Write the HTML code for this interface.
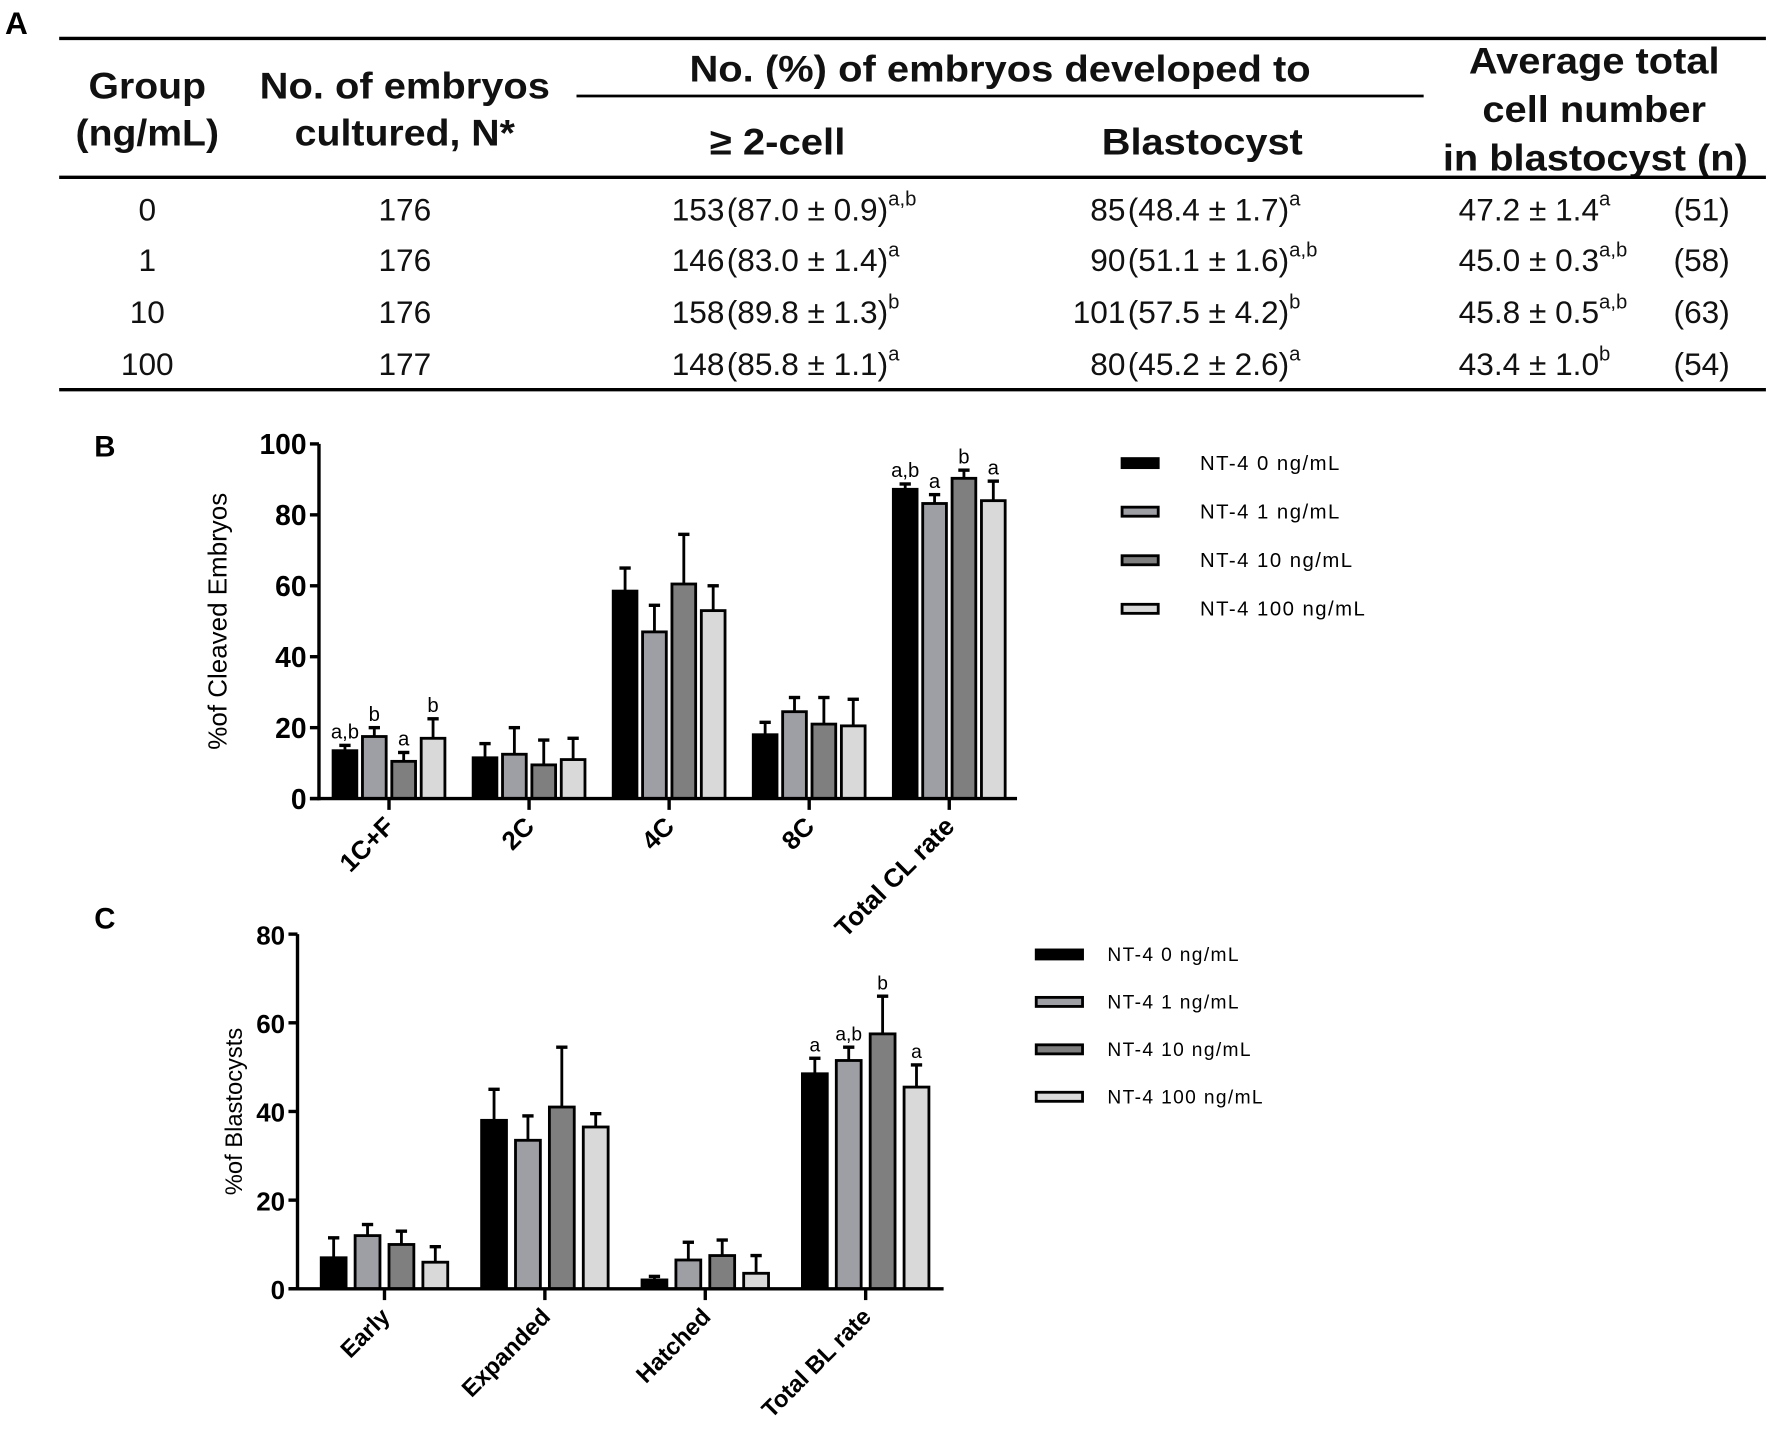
<!DOCTYPE html>
<html><head><meta charset="utf-8"><style>
html,body{margin:0;padding:0;background:#fff;}
svg{display:block;font-family:"Liberation Sans",Arial,sans-serif;}
</style></head><body>
<svg id="fig" width="1772" height="1430" viewBox="0 0 1568 1266" xmlns="http://www.w3.org/2000/svg">
<g>
<text x="4" y="30" font-size="28" font-weight="bold">A</text>
<line x1="52" y1="34" x2="1563" y2="34" stroke="#000" stroke-width="3"/>
<g font-size="33" font-weight="bold" text-anchor="middle" fill="#111">
<text x="130" y="87" textLength="104" lengthAdjust="spacingAndGlyphs">Group</text>
<text x="130" y="129" textLength="127" lengthAdjust="spacingAndGlyphs">(ng/mL)</text>
<text x="358" y="87" textLength="257" lengthAdjust="spacingAndGlyphs">No. of embryos</text>
<text x="358" y="129" textLength="195" lengthAdjust="spacingAndGlyphs">cultured, N*</text>
<text x="885" y="72" textLength="550" lengthAdjust="spacingAndGlyphs">No. (%) of embryos developed to</text>
<text x="688" y="137" textLength="120" lengthAdjust="spacingAndGlyphs">≥ 2-cell</text>
<text x="1064" y="137" textLength="178" lengthAdjust="spacingAndGlyphs">Blastocyst</text>
<text x="1411" y="65" textLength="222" lengthAdjust="spacingAndGlyphs">Average total</text>
<text x="1411" y="108" textLength="198" lengthAdjust="spacingAndGlyphs">cell number</text>
<text x="1412" y="151" textLength="270" lengthAdjust="spacingAndGlyphs">in blastocyst (n)</text>
</g>
<line x1="510" y1="85" x2="1260" y2="85" stroke="#000" stroke-width="2.5"/>
<line x1="52" y1="157" x2="1563" y2="157" stroke="#000" stroke-width="3"/>
<g id="rows" font-size="28" fill="#111"></g>
<line x1="52" y1="345" x2="1563" y2="345" stroke="#000" stroke-width="3"/>
</g>
<g id="chartB"></g>
<g id="chartC"></g>
</svg>
<script>
const NS="http://www.w3.org/2000/svg";
// ---- table data ----
const groups=["0","1","10","100"];
const cultured=["176","176","176","177"];
const cleaveN=["153","146","158","148"];
const cleaveP=["(87.0 ± 0.9)","(83.0 ± 1.4)","(89.8 ± 1.3)","(85.8 ± 1.1)"];
const cleaveS=["a,b","a","b","a"];
const blastN=["85","90","101","80"];
const blastP=["(48.4 ± 1.7)","(51.1 ± 1.6)","(57.5 ± 4.2)","(45.2 ± 2.6)"];
const blastS=["a","a,b","b","a"];
const cellV=["47.2 ± 1.4","45.0 ± 0.3","45.8 ± 0.5","43.4 ± 1.0"];
const cellS=["a","a,b","a,b","b"];
const cellN=["(51)","(58)","(63)","(54)"];
// ---- chart B data ----
const catsB=["1C+F","2C","4C","8C","Total CL rate"];
const b0=[13.5,11.5,58.5,18,87.2], b0e=[1.5,4,6.5,3.5,1.5];
const b1=[17.5,12.5,47,24.5,83.2], b1e=[2.5,7.5,7.5,4,2.5];
const b10=[10.5,9.5,60.5,21,90.3], b10e=[2.5,7,14,7.5,2.3];
const b100=[17,11,53,20.5,84], b100e=[5.5,6,7,7.5,5.5];
const lettersB=[["a,b","b","a","b"],["","","",""],["","","",""],["","","",""],["a,b","a","b","a"]];
const ticksB=[0,20,40,60,80,100];
// ---- chart C data ----
const catsC=["Early","Expanded","Hatched","Total BL rate"];
const c0=[7,38,2,48.5], c0e=[4.5,7,0.8,3.5];
const c1=[12,33.5,6.5,51.5], c1e=[2.5,5.5,4,3];
const c10=[10,41,7.5,57.5], c10e=[3,13.5,3.5,8.5];
const c100=[6,36.5,3.5,45.5], c100e=[3.5,3,4,5];
const lettersC=[["","","",""],["","","",""],["","","",""],["a","a,b","b","a"]];
const ticksC=[0,20,40,60,80];
const legendLabels=["NT-4 0 ng/mL","NT-4 1 ng/mL","NT-4 10 ng/mL","NT-4 100 ng/mL"];
const fills=["#000000","#9e9ea5","#7f7f7f","#d9d9d9"];

function mk(tag,attrs,parent,txt){const e=document.createElementNS(NS,tag);for(const k in attrs)e.setAttribute(k,attrs[k]);if(txt!==undefined)e.textContent=txt;parent.appendChild(e);return e;}

const rows=document.getElementById('rows');
const rowY=[195,240,286,332];
groups.forEach((g,i)=>{
 const y=rowY[i];
 let t=mk('text',{x:130,y:y,'text-anchor':'middle'},rows,g);
 
 
 t=mk('text',{x:358,y:y,'text-anchor':'middle'},rows,cultured[i]);
 
 
 function cell(x,n,p,s,name){
  const a=mk('text',{x:x,y:y,'text-anchor':'end'},rows,n);
  
  
  const b=mk('text',{x:x+2,y:y},rows);
  
  
  b.appendChild(document.createTextNode(p));
  mk('tspan',{dy:-13,'font-size':18},b,s);
 }
 cell(641,cleaveN[i],cleaveP[i],cleaveS[i],'row-cleavage');
 cell(996,blastN[i],blastP[i],blastS[i],'row-blastocyst');
 const c=mk('text',{x:1291,y:y},rows);
 
 
 c.appendChild(document.createTextNode(cellV[i]));
 mk('tspan',{dy:-13,'font-size':18},c,cellS[i]);
 const nn=mk('text',{x:1531,y:y,'text-anchor':'end'},rows,cellN[i]);
 
 
});

function chart(g,o){
 const {x0,x1,yTop,yBot,max,ticks,cats,series,errs,letters,pitch,centers0,gap,bw,tickFs,xFs,title,titleX,labelFs,panel,panelY,legX,legY,legStep,legW,legTextX,legFs,legLs,titleFs}=o;
 const ys=v=>yBot-(v/max)*(yBot-yTop);
 const xc=i=>centers0+i*gap;
 let p=mk('text',{x:83,y:panelY,'font-size':26,'font-weight':'bold'},g,panel);
 
 
 cats.forEach((c,i)=>{
  series.forEach((s,k)=>{
   const cx=xc(i)+(k-1.5)*pitch;
   const v=s[i], e=errs[k][i];
   const et=ys(v+e);
   const l=mk('line',{x1:cx,x2:cx,y1:ys(v),y2:et,stroke:'#000','stroke-width':2.5},g);
   
   
   const cap=mk('line',{x1:cx-5,x2:cx+5,y1:et,y2:et,stroke:'#000','stroke-width':3},g);
   
   
   const r=mk('rect',{x:cx-bw/2,y:ys(v),width:bw,height:yBot-ys(v),fill:fills[k],stroke:'#000','stroke-width':2.5},g);
   
   
   if(letters[i][k]){
    const t=mk('text',{x:cx,y:et-6,'font-size':labelFs,'text-anchor':'middle'},g,letters[i][k]);
    
    
   }
  });
  const tk=mk('line',{x1:xc(i),x2:xc(i),y1:yBot,y2:yBot+10,stroke:'#000','stroke-width':3},g);
  
  
  const lx=xc(i)+6, ly=yBot+26;
  const t=mk('text',{x:lx,y:ly,'font-size':xFs,'font-weight':'bold','text-anchor':'end',transform:`rotate(-45 ${lx} ${ly})`},g,c);
  
  
 });
 const ya=mk('line',{x1:x0,x2:x0,y1:yTop,y2:yBot+1.5,stroke:'#000','stroke-width':3},g);
 
 
 const xa=mk('line',{x1:x0-8,x2:x1,y1:yBot,y2:yBot,stroke:'#000','stroke-width':3},g);
 
 
 ticks.forEach(tv=>{
  const y=ys(tv);
  const l=mk('line',{x1:x0-8,x2:x0,y1:y,y2:y,stroke:'#000','stroke-width':3},g);
  
  
  const t=mk('text',{x:x0-11,y:y+9,'font-size':tickFs,'font-weight':'bold','text-anchor':'end'},g,tv);
  
  
 });
 const ty=(yTop+yBot)/2;
 const tt=mk('text',{x:titleX,y:ty,'font-size':titleFs,'text-anchor':'middle',transform:`rotate(-90 ${titleX} ${ty})`},g,title);
 
 
 legendLabels.forEach((lb,k)=>{
  const y=legY+k*legStep;
  const r=mk('rect',{x:legX,y:y-4,width:legW,height:8,fill:fills[k],stroke:'#000','stroke-width':2.5},g);
  
  
  const t=mk('text',{x:legTextX,y:y+6,'font-size':legFs,'letter-spacing':legLs},g,lb);
  
  
 });
}
chart(document.getElementById('chartB'),{x0:282,x1:900,yTop:393,yBot:707,max:100,ticks:ticksB,cats:catsB,
 series:[b0,b1,b10,b100],errs:[b0e,b1e,b10e,b100e],letters:lettersB,pitch:26,bw:21,centers0:344,gap:124,
 tickFs:25,xFs:23,title:"%of Cleaved Embryos",titleX:200,titleFs:23,labelFs:18,panel:"B",panelY:404,
 legX:993,legY:410,legStep:43,legW:32,legTextX:1062,legFs:18,legLs:1.3});
chart(document.getElementById('chartC'),{x0:263,x1:835,yTop:827,yBot:1141,max:80,ticks:ticksC,cats:catsC,
 series:[c0,c1,c10,c100],errs:[c0e,c1e,c10e,c100e],letters:lettersC,pitch:30,bw:22,centers0:340,gap:142,
 tickFs:23,xFs:21,title:"%of Blastocysts",titleX:214,titleFs:21,labelFs:17,panel:"C",panelY:822,
 legX:917,legY:845,legStep:42,legW:41,legTextX:980,legFs:17,legLs:1.2});
</script>
</body></html>
